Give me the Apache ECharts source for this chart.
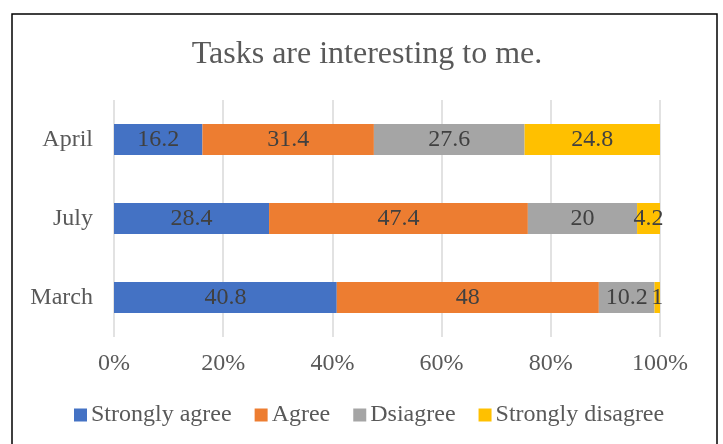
<!DOCTYPE html>
<html>
<head>
<meta charset="utf-8">
<script src="https://cdn.jsdelivr.net/npm/echarts@6/dist/echarts.min.js"></script>
<style>
html,body{margin:0;padding:0;background:#fff;}
#main{width:723px;height:444px;}
</style>
</head>
<body>
<div id="main"></div>
<script>
const categories = ['March', 'July', 'April'];
const seriesNames = ['Strongly agree', 'Agree', 'Dsiagree', 'Strongly disagree'];
const stronglyAgree = [40.8, 28.4, 16.2];
const agree = [48, 47.4, 31.4];
const disagree = [10.2, 20, 27.6];
const stronglyDisagree = [1, 4.2, 24.8];
const xTicks = [0, 20, 40, 60, 80, 100];
const colors = ['#4472C4', '#ED7D31', '#A5A5A5', '#FFC000'];

const FONT = '"Liberation Serif", "Times New Roman", serif';
const dataSets = [stronglyAgree, agree, disagree, stronglyDisagree];

const chart = echarts.init(document.getElementById('main'));
chart.setOption({
  animation: false,
  backgroundColor: '#fff',
  title: {
    text: 'Tasks are interesting to me.',
    left: 362,
    textAlign: 'center',
    top: 34,
    textStyle: {fontFamily: FONT, fontSize: 32, fontWeight: 'normal', color: '#595959'}
  },
  graphic: [{
    type: 'rect',
    shape: {x: 12, y: 14, width: 705, height: 450},
    style: {fill: 'none', stroke: '#000', lineWidth: 1.5},
    silent: true
  }],
  legend: {
    top: 398,
    left: 69,
    itemWidth: 13,
    itemHeight: 13,
    itemGap: 23,
    icon: 'rect',
    textStyle: {fontFamily: FONT, fontSize: 24, color: '#595959', padding: [0,0,0,-1]},
    data: seriesNames
  },
  grid: {left: 114, right: 63, top: 100, bottom: 107, containLabel: false},
  xAxis: {
    type: 'value',
    min: 0, max: 100, interval: 20,
    axisLine: {show: false},
    axisTick: {show: false},
    splitLine: {lineStyle: {color: '#D9D9D9', width: 1.5}},
    axisLabel: {
      fontFamily: FONT, fontSize: 24, color: '#595959', margin: 15,
      formatter: v => xTicks.includes(v) ? v + '%' : ''
    }
  },
  yAxis: {
    type: 'category',
    data: categories,
    axisLine: {show: false},
    axisTick: {show: false},
    axisLabel: {fontFamily: FONT, fontSize: 24, color: '#595959', margin: 21}
  },
  series: seriesNames.map((name, i) => ({
    name: name,
    type: 'bar',
    stack: 'total',
    barWidth: 31,
    itemStyle: {color: colors[i]},
    label: {
      show: true,
      position: 'inside',
      fontFamily: FONT, fontSize: 24, color: '#404040',
      formatter: p => String(p.value)
    },
    data: dataSets[i]
  }))
});
</script>
</body>
</html>
